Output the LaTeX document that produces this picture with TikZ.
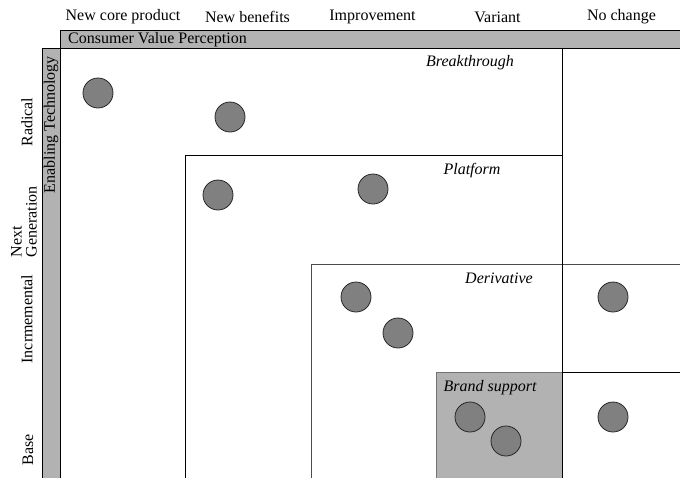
\documentclass[tikz,border=0pt]{standalone}
\usepackage{fontspec}
\setmainfont{Liberation Serif}
\begin{document}
\begin{tikzpicture}[x=1pt,y=-1pt,
  lbl/.style={font=\fontsize{16}{15}\selectfont, inner sep=0pt},
  zone/.style={font=\fontsize{16}{15}\selectfont\itshape, inner sep=0pt},
  rowlbl/.style={font=\fontsize{16}{15}\selectfont, inner sep=0pt, rotate=90, align=left},
  dot/.style={circle, draw=black!85, line width=0.8pt, fill=black!50, minimum size=30pt, inner sep=0pt},
  rule/.style={draw=black, line width=0.8pt},
  grule/.style={draw=black!70, line width=1pt},
  band/.style={fill=black!30, draw=black, line width=0.8pt}]
\useasboundingbox (0,0) rectangle (680,477);

% header band and left band
\path[band] (60,30.5) rectangle (690,48);
\path[band] (42,48) rectangle (60,490);
\node[lbl, anchor=west] (cvp) at (68,40) {Consumer Value Perception};
\node[lbl, rotate=90, anchor=east] (etech) at (51,56) {Enabling Technology};

% column headings
\node[lbl] (c1) at (123,17) {New core product};
\node[lbl] (c2) at (247.5,17) {New benefits};
\node[lbl] (c3) at (372.5,17) {Improvement};
\node[lbl] (c4) at (497.5,17) {Variant};
\node[lbl] (c5) at (621.5,17) {No change};

% row headings
\node[rowlbl] (r1) at (27,122) {Radical};
\node[rowlbl] (r2) at (24,222) {Next\\Generation};
\node[rowlbl] (r3) at (27,319) {Incrmemental};
\node[rowlbl] (r4) at (28,450) {Base};

% nested zones
\path[rule] (185,490) -- (185,155.5) -- (562,155.5);
\path[grule] (311,490) -- (311,264.5) -- (690,264.5);
\path[fill=black!30, draw=black!55, line width=1pt] (436.5,490) -- (436.5,372) -- (562,372) -- (562,490);
\path[rule] (562,372) -- (690,372);
\path[rule] (562,48) -- (562,490);

\node[zone] (z1) at (470,63) {Breakthrough};
\node[zone] (z2) at (472,171) {Platform};
\node[zone] (z3) at (499,278) {Derivative};
\node[zone] (z4) at (490,388) {Brand support};

% products
\node[dot] (p1) at (98,93) {};
\node[dot] (p2) at (230,117) {};
\node[dot] (p3) at (218,195) {};
\node[dot] (p4) at (373,189) {};
\node[dot] (p5) at (356,297) {};
\node[dot] (p6) at (398,333) {};
\node[dot] (p7) at (613,297) {};
\node[dot] (p8) at (470,417) {};
\node[dot] (p9) at (506,441) {};
\node[dot] (p10) at (613,417) {};
\end{tikzpicture}
\end{document}
